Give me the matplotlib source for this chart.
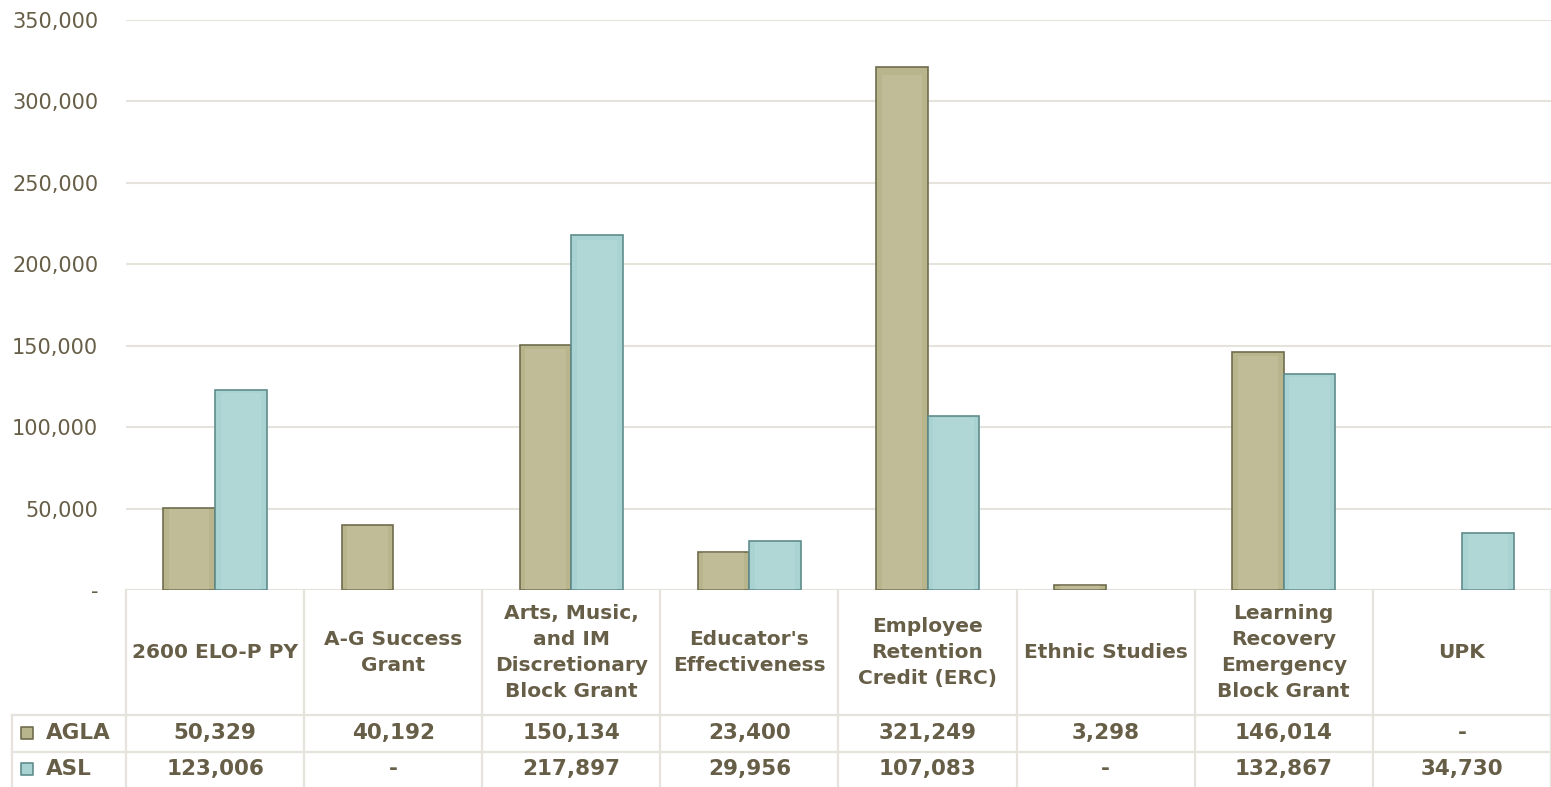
import matplotlib.pyplot as plt
import numpy as np

CATEGORIES = [
    "2600 ELO-P PY",
    "A-G Success\nGrant",
    "Arts, Music,\nand IM\nDiscretionary\nBlock Grant",
    "Educator's\nEffectiveness",
    "Employee\nRetention\nCredit (ERC)",
    "Ethnic Studies",
    "Learning\nRecovery\nEmergency\nBlock Grant",
    "UPK",
]
AGLA = [50329, 40192, 150134, 23400, 321249, 3298, 146014, np.nan]
ASL = [123006, np.nan, 217897, 29956, 107083, np.nan, 132867, 34730]
Y_TICKS = [0, 50000, 100000, 150000, 200000, 250000, 300000, 350000]

TEXT = "#675e47"
GRID = "#e6e3dd"
FILL = {"AGLA": "#b8b58c", "ASL": "#a9d2d2"}
EDGE = {"AGLA": "#6f6c4e", "ASL": "#5f8c8c"}

W, H = 1551, 787
fig = plt.figure(figsize=(W / 100, H / 100), dpi=100)
plt.rcParams["font.family"] = ["DejaVu Sans"]

# plot area in pixel coordinates
x0, x1, ytop, ybot = 126, 1551, 20, 590
ax = fig.add_axes([x0 / W, (H - ybot) / H, (x1 - x0) / W, (ybot - ytop) / H])
n = len(CATEGORIES)
x = np.arange(n)
bw = 0.29
for vals, name, off in [(AGLA, "AGLA", -bw / 2), (ASL, "ASL", bw / 2)]:
    v = np.array(vals, dtype=float)
    ok = ~np.isnan(v)
    ax.bar(x[ok] + off, v[ok], bw, color=FILL[name], edgecolor=EDGE[name],
           linewidth=1.2, zorder=3)
    # lighter inner panel for the bevelled look
    ax.bar(x[ok] + off, v[ok] * 0.985, bw * 0.78, color="white", alpha=0.1,
           linewidth=0, zorder=4)

ax.set_xlim(-0.5, n - 0.5)
ax.set_ylim(0, 350000)
ax.set_yticks(Y_TICKS)
ax.set_yticklabels(["-" if t == 0 else f"{t:,}" for t in Y_TICKS])
ax.tick_params(axis="y", length=0, pad=20, labelsize=15, labelcolor=TEXT)
ax.tick_params(axis="x", length=0, labelbottom=False)
ax.grid(axis="y", color=GRID, linewidth=1.5, zorder=0)
for s in ax.spines.values():
    s.set_visible(False)

# data table underneath
tl = 12
cw = (x1 - x0) / n
tax = fig.add_axes([tl / W, 0, (x1 - tl) / W, (H - ybot) / H])
left = -0.5 - (x0 - tl) / cw
tax.set_xlim(left, n - 0.5)
tax.set_ylim(H, ybot)
tax.axis("off")
row1, row2 = 715, 752
lw = 1.6
for i in range(n + 1):
    tax.plot([i - 0.5, i - 0.5], [ybot, H], color=GRID, lw=lw, clip_on=False)
tax.plot([left, left], [row1, H], color=GRID, lw=lw, clip_on=False)
for yy in (row1, row2):
    tax.plot([left, n - 0.5], [yy, yy], color=GRID, lw=lw, clip_on=False)

for i, c in enumerate(CATEGORIES):
    tax.text(i, (ybot + row1) / 2, c, ha="center", va="center", fontsize=14.5,
             fontweight="bold", color=TEXT, linespacing=1.45)

for vals, name, (ya, yb) in [(AGLA, "AGLA", (row1, row2)), (ASL, "ASL", (row2, H))]:
    ym = (ya + yb) / 2
    for i, v in enumerate(vals):
        s = "-" if np.isnan(v) else f"{int(v):,}"
        tax.text(i, ym, s, ha="center", va="center", fontsize=15.5,
                 fontweight="bold", color=TEXT)
    tax.scatter([left + 0.085], [ym], marker="s", s=70, color=FILL[name],
                edgecolor=EDGE[name], linewidth=1.2, clip_on=False)
    tax.text(left + 0.19, ym, name, ha="left", va="center", fontsize=15.5,
             fontweight="bold", color=TEXT)

fig.savefig("out.png", dpi=100)
